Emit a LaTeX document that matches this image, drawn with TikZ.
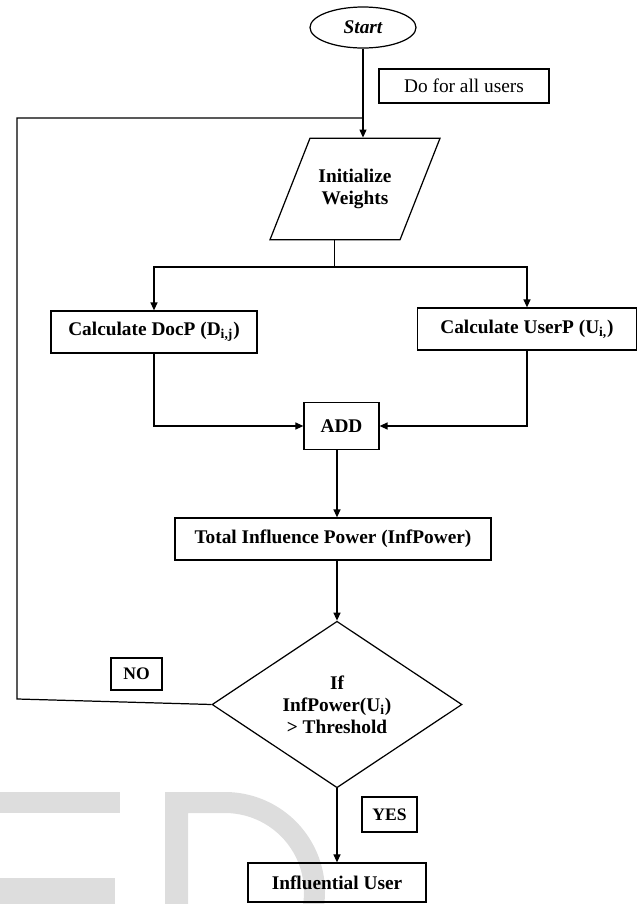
\documentclass[tikz,border=0pt]{standalone}
\usepackage{fontspec}
\setmainfont{Liberation Serif}
\usetikzlibrary{shapes.geometric,arrows.meta}

\begin{document}
\begin{tikzpicture}[scale=0.2, >={Triangle[length=1.6mm,width=1.4mm]}, line width=0.7pt]
\tikzstyle{every node}+=[inner sep=0pt, font=\fontsize{11}{12.5}\selectfont\bfseries]
\tikzset{
  box/.style={draw=black, rectangle, minimum height=0.84cm},
  label box/.style={draw=black, rectangle, font=\fontsize{10}{12}\selectfont\bfseries},
  para/.style={draw=black, trapezium, trapezium left angle=68.5, trapezium right angle=111.5,
    text width=1.5cm, align=center, inner xsep=0.15cm, inner ysep=0.62cm},
  decision/.style={draw=black, diamond, minimum width=5cm, minimum height=3.26cm, align=center}
}
\useasboundingbox (0,0) rectangle (63.9,-90.4);
% watermark letters
\fill [gray!27] (0,-79.2) rectangle (12,-81.3);
\fill [gray!27] (0,-87.8) rectangle (11.5,-90.4);
\fill [gray!27, even odd rule] (16.5,-90.4) -- (16.5,-79.2) -- (22.5,-79.2) arc (90:-7:10) -- cycle
  (18.8,-90.4) -- (18.8,-81.3) -- (22.5,-81.3) arc (90:-9:7.9) -- cycle;
% nodes
\node [draw=black, ellipse, minimum width=2.12cm, minimum height=0.82cm, font=\fontsize{11}{12.5}\selectfont\bfseries\itshape] (start) at (36.3,-2.75) {Start};
\node [draw=black, rectangle, minimum width=3.4cm, minimum height=0.68cm, font=\fontsize{11}{12.5}\selectfont] (doall) at (46.4,-8.6) {Do for all users};
\node [para] (init) at (35.5,-18.9) {Initialize\\Weights};
\node [box, minimum width=4.12cm] (docp) at (15.4,-33.2) {Calculate DocP (D\textsubscript{i,j})};
\node [box, minimum width=4.38cm] (userp) at (52.7,-32.9) {Calculate UserP (U\textsubscript{i,})};
\node [box, minimum width=1.5cm, minimum height=0.94cm] (add) at (34.15,-42.6) {ADD};
\node [box, minimum width=6.32cm] (total) at (33.3,-53.9) {Total Influence Power (InfPower)};
\node [decision] (cond) at (33.7,-70.45) {If\\InfPower(U\textsubscript{i})\\> Threshold};
\node [label box, minimum width=1.02cm, minimum height=0.64cm] (no) at (13.65,-67.4) {NO};
\node [label box, minimum width=1.1cm, minimum height=0.7cm] (yes) at (38.95,-81.45) {YES};
\node [box, minimum width=3.56cm, minimum height=0.78cm] (infl) at (33.7,-88.25) {Influential User};
\coordinate (fork) at (33.3,-26.7);
\coordinate (back) at (1.7,-69.9);
\coordinate (top) at (1.7,-11.8);
% connectors
\draw [->] (start.south) -- (start.south |- init.top side);
\draw (cond.west) -- (back) -- (top) -- (top -| start.south);
\draw (init.bottom side) -- (init.bottom side |- fork);
\draw [->] (fork) -| (docp.north);
\draw [->] (fork) -| (userp.north);
\draw [->] (docp.south) |- (add.west);
\draw [->] (userp.south) |- (add.east);
\draw [->] (add.south -| cond.north) -- (total.north -| cond.north);
\draw [->] (total.south -| cond.north) -- (cond.north);
\draw [->] (cond.south) -- (infl.north);
\end{tikzpicture}
\end{document}
